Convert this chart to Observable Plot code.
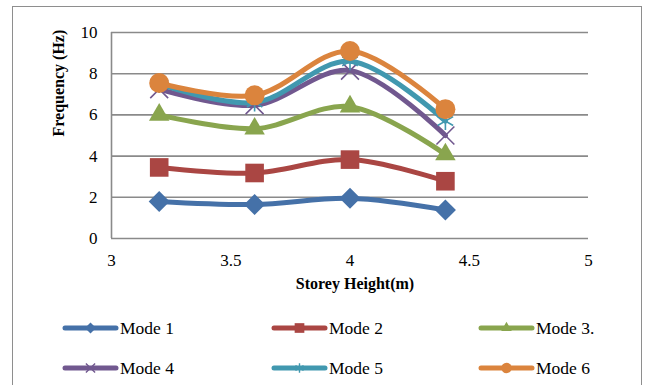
<!DOCTYPE html>
<html>
<head>
<meta charset="utf-8">
<script src="https://cdn.jsdelivr.net/npm/d3@7"></script>
<script src="https://cdn.jsdelivr.net/npm/@observablehq/plot@0.6"></script>
<style>
  body { margin: 0; background: #fff; overflow: hidden; }
  #chart { position: relative; width: 645px; height: 385px; font-family: "Liberation Serif", "Times New Roman", serif; }
  #frame { position: absolute; left: 12px; top: 6px; width: 630px; height: 420px; border: 1.5px solid #8e8e8e; box-sizing: border-box; pointer-events: none; }
  #plot { position: absolute; left: 0; top: 0; }
  #plot svg text { font-family: "Liberation Serif", "Times New Roman", serif; }
  #legend { position: absolute; left: 0; top: 300px; width: 645px; height: 85px; }
  .item { position: absolute; display: flex; align-items: center; font-size: 17.5px; color: #000; }
  .item svg { display: block; margin-right: 1px; }
</style>
</head>
<body>
<div id="chart">
  <div id="plot"></div>
  <div id="legend"></div>
  <div id="frame"></div>
</div>
<script>
// Storey heights (m) and natural frequencies (Hz) for the first six modes
const heights = [3.2, 3.6, 4.0, 4.4];
const mode1 = [1.8, 1.65, 1.95, 1.38];
const mode2 = [3.45, 3.18, 3.83, 2.78];
const mode3 = [6.0, 5.33, 6.4, 4.08];
const mode4 = [7.25, 6.47, 8.15, 5.0];
const mode5 = [7.5, 6.6, 8.6, 5.7];
const mode6 = [7.55, 6.95, 9.1, 6.28];

const modeNames = ["Mode 1", "Mode 2", "Mode 3.", "Mode 4", "Mode 5", "Mode 6"];
const modeValues = [mode1, mode2, mode3, mode4, mode5, mode6];
const modeColors = ["#4571a8", "#aa4643", "#89a54e", "#71588f", "#4198af", "#db843d"];

const xTicks = [3, 3.5, 4, 4.5, 5];
const yTicks = [0, 2, 4, 6, 8, 10];

// square turned 45 degrees
const diamond = {
  draw(ctx, size) {
    const r = Math.sqrt(size / 2);
    ctx.moveTo(0, -r); ctx.lineTo(r, 0); ctx.lineTo(0, r); ctx.lineTo(-r, 0); ctx.closePath();
  }
};

const markers = [
  {symbol: diamond, r: 8.4, filled: true},
  {symbol: "square", r: 10.5, filled: true},
  {symbol: "triangle", r: 7.6, filled: true},
  {symbol: "times", r: 8.2, filled: false},
  {symbol: "asterisk", r: 8.5, filled: false},
  {symbol: "circle", r: 10, filled: true}
];

const serif = "Liberation Serif, Times New Roman, serif";
const grid = "#8a8a8a";

const marks = [
  Plot.ruleY(yTicks.filter(d => d > 0), {stroke: grid, strokeWidth: 1.6}),
  Plot.ruleY([0], {stroke: grid, strokeWidth: 1.6}),
  Plot.ruleX([3], {stroke: grid, strokeWidth: 1.6}),
  Plot.axisY({ticks: yTicks, tickSize: 0, tickPadding: 14, label: null, fontSize: 17}),
  Plot.axisX({ticks: xTicks, tickSize: 0, tickPadding: 15, label: null, fontSize: 17, tickFormat: d => String(d)}),
  Plot.text(["Frequency (Hz)"], {frameAnchor: "left", dx: -53, dy: 1, rotate: -90, fontSize: 16, fontWeight: "bold", fill: "#000"}),
  Plot.text(["Storey Height(m)"], {frameAnchor: "bottom", dx: 5, dy: 50, fontSize: 16, fontWeight: "bold", fill: "#000"})
];

modeValues.forEach((vals, i) => {
  const rows = heights.map((h, j) => ({h, f: vals[j]}));
  const c = modeColors[i];
  const m = markers[i];
  marks.push(Plot.line(rows, {x: "h", y: "f", stroke: c, strokeWidth: 5, curve: "catmull-rom", strokeLinejoin: "round", strokeLinecap: "round"}));
  marks.push(Plot.dot(rows, m.filled
    ? {x: "h", y: "f", symbol: () => m.symbol, r: m.r, fill: c, stroke: "none"}
    : {x: "h", y: "f", symbol: () => m.symbol, r: m.r, stroke: c, strokeWidth: 1.6, fill: "none"}));
});

const chart = Plot.plot({
  width: 645,
  height: 300,
  marginLeft: 111,
  marginRight: 57,
  marginTop: 32,
  marginBottom: 62,
  x: {domain: [3, 5]},
  y: {domain: [0, 10]},
  symbol: {type: "identity"},
  style: {fontFamily: serif, fontSize: "17px", color: "#000", background: "transparent"},
  marks
});
document.getElementById("plot").append(chart);

// legend: two rows of three entries
const legend = document.getElementById("legend");
const colX = [62, 271, 478];
const rowY = [28, 68];
modeNames.forEach((name, i) => {
  const item = document.createElement("div");
  item.className = "item";
  item.style.left = colX[i % 3] + "px";
  item.style.top = (rowY[Math.floor(i / 3)] - 10) + "px";
  item.style.height = "20px";
  const svg = d3.create("svg").attr("width", 57).attr("height", 20);
  svg.append("line").attr("x1", 3).attr("x2", 54).attr("y1", 10).attr("y2", 10)
    .attr("stroke", modeColors[i]).attr("stroke-width", 5).attr("stroke-linecap", "round");
  const m = markers[i];
  const symType = typeof m.symbol === "string"
    ? {square: d3.symbolSquare, triangle: d3.symbolTriangle, times: d3.symbolTimes, asterisk: d3.symbolAsterisk, circle: d3.symbolCircle}[m.symbol]
    : m.symbol;
  const rr = m.r * 0.52;
  const p = svg.append("path").attr("transform", "translate(28.5,10)")
    .attr("d", d3.symbol(symType, Math.PI * rr * rr)());
  if (m.filled) p.attr("fill", modeColors[i]);
  else p.attr("fill", "none").attr("stroke", modeColors[i]).attr("stroke-width", 1.4);
  item.append(svg.node());
  const t = document.createElement("span");
  t.textContent = name;
  item.append(t);
  legend.append(item);
});
</script>
</body>
</html>
